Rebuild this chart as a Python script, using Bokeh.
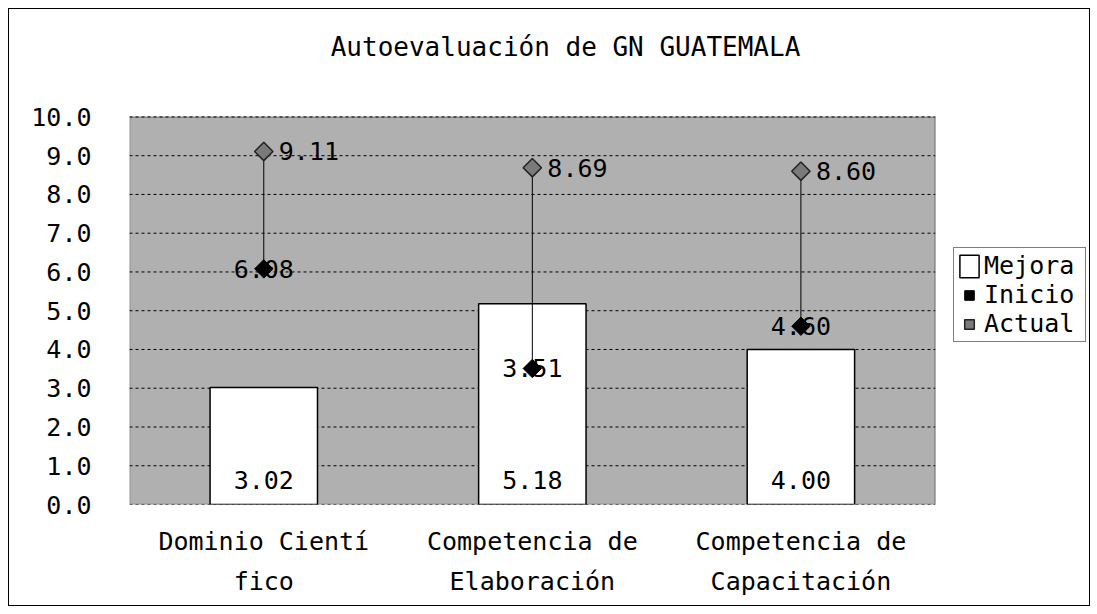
from bokeh.plotting import figure
from bokeh.models import (FixedTicker, PrintfTickFormatter, Legend, LegendItem,
                          ColumnDataSource, LinearAxis, CustomJSTickFormatter,
                          BoxAnnotation, Label)
from bokeh.core.properties import value
from bokeh.embed import file_html
from bokeh.resources import INLINE
import math

categories = ["Dominio Científico", "Competencia de Elaboración", "Competencia de Capacitación"]
label_line1 = ["Dominio Cientí", "Competencia de", "Competencia de"]
label_line2 = ["fico", "Elaboración", "Capacitación"]
mejora = [3.02, 5.18, 4.00]
inicio = [6.08, 3.51, 4.60]
actual = [9.11, 8.69, 8.60]
y_ticks = [0, 1, 2, 3, 4, 5, 6, 7, 8, 9, 10]
title_text = "Autoevaluación de GN GUATEMALA"

FONT = "DejaVu Sans Mono"

# layout (pixels): plot area 804 x 386 inside a frame 960 x 493
PLOT_W, PLOT_H = 804, 386
FRAME_W, FRAME_H = 960, 493
n = len(categories)
y_max = y_ticks[-1]
x_end = n * FRAME_W / PLOT_W
y_end = y_max * FRAME_H / PLOT_H

# category slots: category i occupies [i, i+1] on the x scale, centred at i + 0.5
xpos = [i + 0.5 for i in range(n)]

src = ColumnDataSource(dict(
    x=xpos, cat=categories, mejora=mejora, inicio=inicio, actual=actual,
    base=[0] * n,
    mejora_txt=[f"{v:.2f}" for v in mejora],
    inicio_txt=[f"{v:.2f}" for v in inicio],
    actual_txt=[f"{v:.2f}" for v in actual],
))

p = figure(x_range=(0, x_end), y_range=(0, y_end), width=1082, height=598,
           output_backend="svg", toolbar_location=None, x_axis_location=None,
           min_border_left=120, min_border_right=0, min_border_top=0, min_border_bottom=103)

p.styles = {"border": "1px solid black", "box-sizing": "border-box",
            "position": "relative", "left": "8px", "top": "8px"}

p.background_fill_color = "white"
p.border_fill_color = "white"
p.outline_line_color = None
p.xgrid.grid_line_color = None
p.ygrid.grid_line_color = None

# plot area
p.add_layout(BoxAnnotation(left=0, right=n, bottom=0, top=y_max,
                           fill_color="#b0b0b0", fill_alpha=1,
                           line_color="black", line_width=1.5, level="underlay"))

# dashed gridlines across the plot area only
p.segment(x0=[0] * len(y_ticks), x1=[n] * len(y_ticks), y0=y_ticks, y1=y_ticks,
          line_color="black", line_width=1, line_dash="3 3")

p.yaxis.ticker = FixedTicker(ticks=y_ticks)
p.yaxis.formatter = PrintfTickFormatter(format="%.1f")
p.yaxis.axis_line_color = None
p.yaxis.major_tick_line_color = None
p.yaxis.major_tick_out = 0
p.yaxis.minor_tick_line_color = None
p.yaxis.minor_tick_out = 0
p.yaxis.major_label_text_font = FONT
p.yaxis.major_label_text_font_size = "25px"
p.yaxis.major_label_text_color = "black"
p.yaxis.major_label_standoff = 38

for lines, standoff in ((label_line1, 22), (label_line2, 8)):
    ax = LinearAxis(ticker=FixedTicker(ticks=xpos),
                    formatter=CustomJSTickFormatter(args=dict(labels=lines),
                                                    code="return labels[Math.round(tick - 0.5)];"),
                    axis_line_color=None, major_tick_line_color=None, major_tick_out=0,
                    minor_tick_line_color=None, minor_tick_out=0,
                    major_label_text_font=FONT, major_label_text_font_size="25px",
                    major_label_text_color="black", major_label_standoff=standoff)
    p.add_layout(ax, "below")

bars = p.vbar(x="x", top="mejora", width=0.4, source=src,
              fill_color="white", line_color="black", line_width=1.5)

p.segment(x0="x", y0="inicio", x1="x", y1="actual", source=src,
          line_color="black", line_width=1)

r_ini = p.scatter(x="x", y="inicio", source=src, marker="square", angle=math.pi / 4,
                  size=13, fill_color="black", line_color="black")
r_act = p.scatter(x="x", y="actual", source=src, marker="square", angle=math.pi / 4,
                  size=13, fill_color="#7a7a7a", line_color="#222222", line_width=1.5)

p.text(x="x", y="base", text="mejora_txt", source=src, text_font=value(FONT),
       text_font_size="25px", text_align="center", text_baseline="bottom",
       y_offset=-16, text_color="black")
p.text(x="x", y="inicio", text="inicio_txt", source=src, text_font=value(FONT),
       text_font_size="25px", text_align="center", text_baseline="middle",
       text_color="black")
p.text(x="x", y="actual", text="actual_txt", source=src, text_font=value(FONT),
       text_font_size="25px", text_align="left", text_baseline="middle",
       x_offset=15, text_color="black")

# chart title (inside the frame, above the plot area)
p.add_layout(Label(x=436, y=458, x_units="screen", y_units="screen", text=title_text,
                   text_font=FONT, text_font_size="26px", text_color="black",
                   text_align="center", text_baseline="middle"))

legend = Legend(items=[
    LegendItem(label="Mejora", renderers=[bars]),
    LegendItem(label="Inicio", renderers=[r_ini]),
    LegendItem(label="Actual", renderers=[r_act]),
], location=(824, 162))
legend.label_text_font = FONT
legend.label_text_font_size = "25px"
legend.label_text_color = "black"
legend.label_height = 28
legend.label_width = 98
legend.glyph_height = 28
legend.glyph_width = 24
legend.spacing = 0
legend.padding = 3
legend.margin = 0
legend.label_standoff = 3
legend.border_line_color = "black"
legend.border_line_width = 1
legend.background_fill_color = "white"
legend.background_fill_alpha = 1
p.add_layout(legend, "center")

open("out.html", "w").write(file_html(p, INLINE))
